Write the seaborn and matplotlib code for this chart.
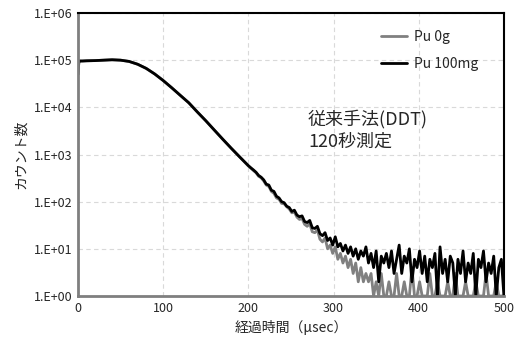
import numpy as np
import pandas as pd
import matplotlib
matplotlib.use("Agg")
import matplotlib.pyplot as plt
import seaborn as sns

sns.set_style("white")
plt.rcParams['font.family'] = ['Noto Sans CJK JP', 'DejaVu Sans']

# smooth head (both runs overlap here)
t_head = [0, 1, 2, 5, 10, 20, 30, 40, 50, 60, 70, 80, 90, 100, 110, 120,
          130, 140, 150, 160, 170, 180, 190]
c_head = [5.0e4, 9.5e4, 9.6e4, 9.6e4, 9.7e4, 9.8e4, 1.0e5, 1.02e5, 1.0e5,
          9.4e4, 8.2e4, 6.7e4, 5.1e4, 3.7e4, 2.6e4, 1.8e4, 1.25e4, 8.0e3,
          5.2e3, 3.3e3, 2.1e3, 1.35e3, 8.8e2]

# noisy tail, 3 usec bins from 200 to 500
t_tail = list(range(200, 501, 3))
pu100_tail = [580, 520, 470, 420, 360, 330, 290, 235, 225, 175, 165, 130, 120, 100,
              95, 80, 75, 62, 66, 52, 48, 50, 38, 36, 40, 28, 27, 30, 21, 19,
              22, 15, 17, 12, 18, 11, 13, 9, 12, 8, 11, 7, 10, 6, 9, 7,
              11, 5, 8, 4, 9, 2, 7, 5, 8, 4, 9, 3, 6, 12, 3, 7,
              5, 10, 2, 6, 4, 9, 3, 7, 2, 6, 4, 8, 1, 11, 3, 6,
              2, 7, 5, 1, 6, 3, 9, 2, 5, 3, 8, 1, 6, 4, 9, 2,
              5, 3, 7, 1, 4, 6, 1]
pu0_tail = [570, 510, 455, 410, 345, 320, 275, 225, 210, 165, 150, 120, 112, 92,
            90, 78, 70, 58, 60, 47, 42, 44, 33, 30, 34, 23, 22, 25, 16, 14,
            17, 10, 12, 8, 11, 6, 8, 5, 7, 4, 6, 3, 5, 2, 4, 2,
            3, 2, 3, 1, 2, 1, 3, 1, 1, 2, 1, 1, 3, 1, 1, 2,
            1, 1, 4, 1, 1, 2, 1, 1, 1, 3, 1, 1, 2, 1, 1, 1,
            2, 1, 1, 3, 1, 1, 1, 2, 1, 1, 1, 2, 1, 1, 1, 3,
            1, 1, 1, 2, 1, 1, 1]

labels = ["Pu 0g", "Pu 100mg"]

df = pd.concat([
    pd.DataFrame({"t": t_head + t_tail, "count": c_head + pu0_tail, "sample": labels[0]}),
    pd.DataFrame({"t": t_head + t_tail, "count": c_head + pu100_tail, "sample": labels[1]}),
], ignore_index=True)

fig = plt.figure(figsize=(5.15, 3.47), dpi=100)
ax = fig.add_axes([0.1515, 0.147, 0.827, 0.8155])

sns.lineplot(data=df, x="t", y="count", hue="sample",
             palette={labels[0]: "#808080", labels[1]: "black"},
             linewidth=2, ax=ax, estimator=None, sort=False)

ax.set_yscale("log")
ax.set_ylim(1, 1e6)
ax.set_xlim(0, 500)
ax.set_xticks([0, 100, 200, 300, 400, 500])
ax.set_yticks([1e0, 1e1, 1e2, 1e3, 1e4, 1e5, 1e6])
ax.set_yticklabels(["1.E+00", "1.E+01", "1.E+02", "1.E+03", "1.E+04", "1.E+05", "1.E+06"])
ax.minorticks_off()
ax.tick_params(labelsize=9, length=0, pad=4)
ax.grid(True, color="#d9d9d9", linestyle=(0, (4, 3)), linewidth=0.8)

for side in ["top", "right"]:
    ax.spines[side].set_color("black")
    ax.spines[side].set_linewidth(1.5)
for side in ["left", "bottom"]:
    ax.spines[side].set_color("#7f7f7f")
    ax.spines[side].set_linewidth(2)

ax.set_xlabel("経過時間（µsec）", fontsize=10, labelpad=4)
ax.set_ylabel("カウント数", fontsize=10, labelpad=4)

ax.text(270, 1.5e3, "従来手法(DDT)\n120秒測定", fontsize=13, linespacing=1.3)

ax.legend(title=None, frameon=False, fontsize=10, loc="upper right",
          bbox_to_anchor=(0.97, 0.985), handlelength=1.9, handletextpad=0.5,
          labelspacing=0.95)

fig.savefig("out.png", dpi=100)
